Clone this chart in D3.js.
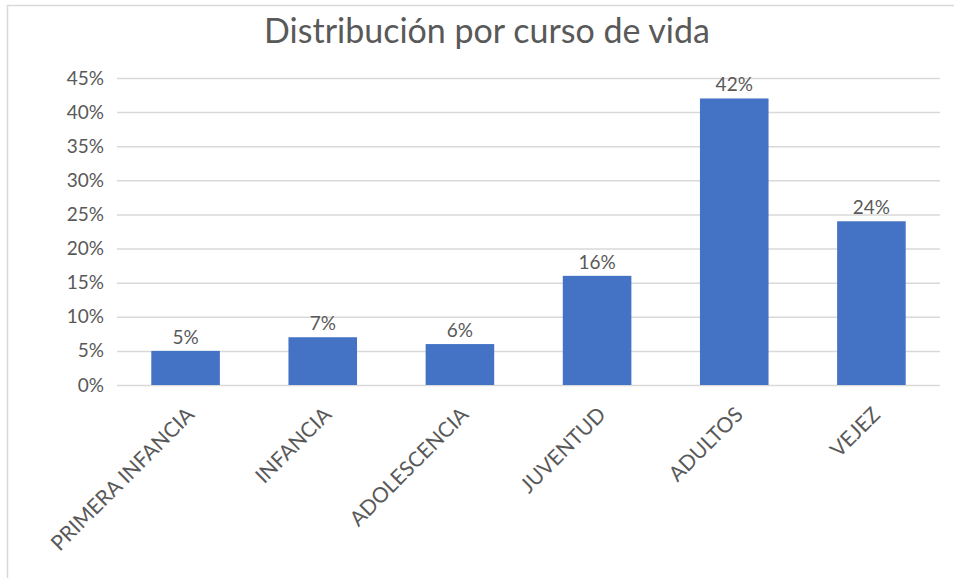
<!DOCTYPE html>
<html><head><meta charset="utf-8">
<script src="https://cdn.jsdelivr.net/npm/d3@7"></script>
<style>body{margin:0;background:#fff}svg{display:block}text{font-family:Lato,"Open Sans",sans-serif}</style>
</head><body>
<svg id="c" width="954" height="578"></svg>
<script>
const categories = ["PRIMERA INFANCIA","INFANCIA","ADOLESCENCIA","JUVENTUD","ADULTOS","VEJEZ"];
const values = [0.05,0.07,0.06,0.16,0.42,0.24];
const yTicks = [0,0.05,0.10,0.15,0.20,0.25,0.30,0.35,0.40,0.45];
const title = "Distribución por curso de vida";

const svg = d3.select("#c");
// frame
svg.append("line").attr("x1",7).attr("x2",954).attr("y1",5.5).attr("y2",5.5).attr("stroke","#d9d9d9").attr("stroke-width",1.5);
svg.append("line").attr("x1",7.5).attr("x2",7.5).attr("y1",5).attr("y2",578).attr("stroke","#d9d9d9").attr("stroke-width",1.5);

const m = {l:117, r:940, t:78, b:385};
const x = d3.scaleBand().domain(categories).range([m.l,m.r]).paddingInner(0.5).paddingOuter(0.25);
const y = d3.scaleLinear().domain([0,0.45]).range([m.b,m.t]);

svg.append("text").attr("x",487).attr("y",43).attr("text-anchor","middle")
  .attr("font-size",34).attr("fill","#595959").text(title);

const ya = svg.append("g").attr("transform",`translate(${m.l},0)`)
  .call(d3.axisLeft(y).tickValues(yTicks).tickFormat(d3.format(".0%")).tickSize(-(m.r-m.l)).tickPadding(13));
ya.select(".domain").remove();
ya.selectAll(".tick line").attr("stroke","#d9d9d9").attr("stroke-width",1.5);
ya.selectAll(".tick text").attr("fill","#595959").attr("font-size",19).attr("font-family","Lato,'Open Sans',sans-serif");

const xa = svg.append("g").attr("transform",`translate(0,${m.b})`)
  .call(d3.axisBottom(x).tickSize(0).tickPadding(0));
xa.select(".domain").remove();
xa.selectAll(".tick text").attr("fill","#595959").attr("font-size",21)
  .attr("font-family","Lato,'Open Sans',sans-serif")
  .attr("text-anchor","end").attr("dy",0)
  .attr("transform","translate(10,31) rotate(-45)");

svg.append("g").selectAll("rect").data(values).join("rect")
  .attr("x",(d,i)=>x(categories[i])).attr("width",x.bandwidth())
  .attr("y",d=>y(d)).attr("height",d=>y(0)-y(d)).attr("fill","#4472c4");

svg.append("g").selectAll("text").data(values).join("text")
  .attr("x",(d,i)=>x(categories[i])+x.bandwidth()/2).attr("y",d=>y(d)-7)
  .attr("text-anchor","middle").attr("font-size",19).attr("fill","#595959")
  .text(d=>d3.format(".0%")(d));
</script>
</body></html>
